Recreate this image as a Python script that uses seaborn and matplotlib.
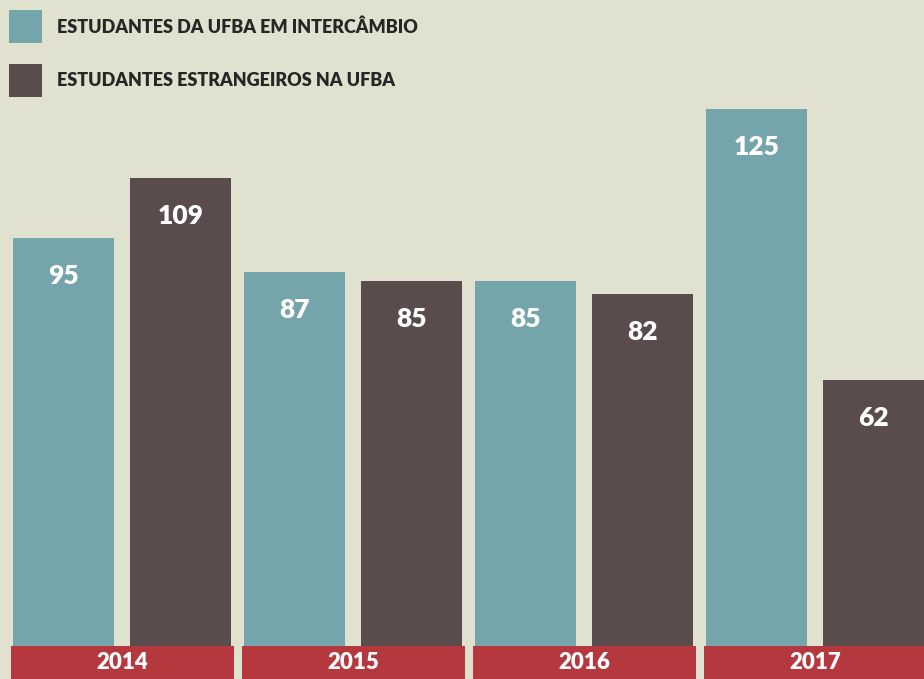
import matplotlib
matplotlib.use("Agg")
import matplotlib.pyplot as plt
import seaborn as sns
import pandas as pd
from matplotlib.patches import Rectangle

# ---- data ----
years = ["2014", "2015", "2016", "2017"]
series_names = ["ESTUDANTES DA UFBA EM INTERCÂMBIO", "ESTUDANTES ESTRANGEIROS NA UFBA"]
intercambio = [95, 87, 85, 125]
estrangeiros = [109, 85, 82, 62]

# ---- styles ----
BG = "#e1e1d0"
TEAL = "#74a5ab"
BROWN = "#5a4b4c"
RED = "#b5383f"
TXT = "#262626"
W, H = 924, 679

sns.set_theme(style="white")
plt.rcParams["font.family"] = ["Lato", "DejaVu Sans"]

df = pd.DataFrame({
    "ano": years * 2,
    "valor": intercambio + estrangeiros,
    "grupo": [series_names[0]] * 4 + [series_names[1]] * 4,
})

fig = plt.figure(figsize=(W / 100, H / 100), dpi=100, facecolor=BG)
ax = fig.add_axes([0, 0, 1, 1])
ax.set_facecolor(BG)

sns.barplot(data=df, x="ano", y="valor", hue="grupo", hue_order=series_names,
            palette=[TEAL, BROWN], saturation=1, width=1.013, gap=0.137,
            legend=False, ax=ax, errorbar=None, linewidth=0)

ymin, ymax = -7.68, 150.4
ax.set_ylim(ymin, ymax)
ax.set_xlim(-0.530, 3.470)

# value labels inside bars
for cont in ax.containers:
    for bar in cont:
        h = bar.get_height()
        ax.text(bar.get_x() + bar.get_width() / 2, h - 8.8, f"{int(round(h))}",
                ha="center", va="center", color="white", fontsize=19,
                fontweight="heavy")

# red year bands
xs = list(range(len(years)))
ax.bar(xs, [-ymin] * len(years), bottom=ymin, width=0.962, color=RED,
       linewidth=0, zorder=3)
for x, y in zip(xs, years):
    ax.text(x, ymin / 2 - 0.1, y, ha="center", va="center", color="white",
            fontsize=16, fontweight="heavy", zorder=4)

for s in ax.spines.values():
    s.set_visible(False)
ax.set_xticks([])
ax.set_yticks([])
ax.set_xlabel("")
ax.set_ylabel("")

# legend (squares + labels)
for i, (name, col) in enumerate(zip(series_names, [TEAL, BROWN])):
    top = 10 + i * 54
    fig.add_artist(Rectangle((9 / W, 1 - (top + 33) / H), 33 / W, 33 / H,
                             transform=fig.transFigure, facecolor=col,
                             edgecolor="none"))
    fig.text(57 / W, 1 - (top + 17) / H, name, ha="left", va="center",
             fontsize=13, fontweight="heavy", color=TXT)

fig.savefig("out.png", dpi=100, facecolor=BG)
